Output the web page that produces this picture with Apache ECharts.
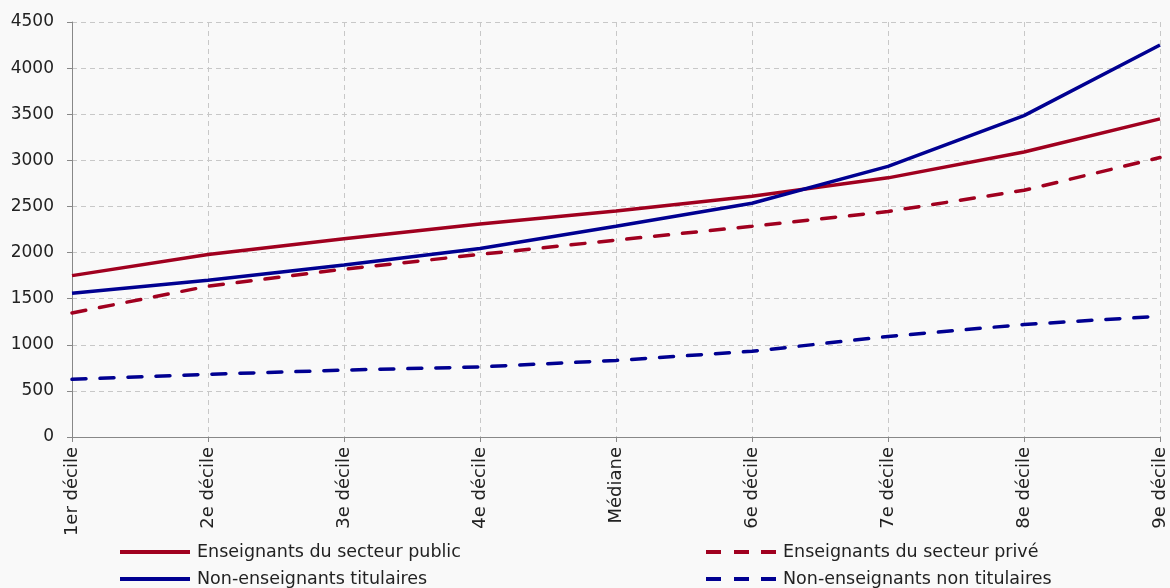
<!DOCTYPE html>
<html><head><meta charset="utf-8">
<script src="https://cdn.jsdelivr.net/npm/echarts@6/dist/echarts.min.js"></script>
<style>html,body{margin:0;padding:0;background:#f9f9f9}#c{width:1170px;height:588px}</style>
</head><body><div id="c"></div>
<script>
const categories = ['1er décile','2e décile','3e décile','4e décile','Médiane','6e décile','7e décile','8e décile','9e décile'];
const publicEns = [1750, 1980, 2150, 2310, 2450, 2610, 2810, 3090, 3450];
const priveEns = [1345, 1635, 1820, 1980, 2135, 2285, 2445, 2675, 3030];
const titulaires = [1560, 1700, 1865, 2045, 2285, 2535, 2935, 3485, 4250];
const nonTitulaires = [625, 680, 725, 760, 830, 930, 1090, 1220, 1310];
const names = ['Enseignants du secteur public','Enseignants du secteur privé','Non-enseignants titulaires','Non-enseignants non titulaires'];
const RED = '#a0001f', BLUE = '#000091';
const FONT = 'DejaVu Sans';
const SOLID_ICON = 'path://M0,0H70V4H0Z';
const DASH_ICON = 'path://M0,0H15V4H0Z M28,0H43V4H28Z M55,0H70V4H55Z';
function mk(name, data, color, dashed){
  return {name, type:'line', data, symbol:'none', smooth:false,
    lineStyle:{color, width:3.5, type: dashed ? [14,14] : 'solid', cap: dashed ? 'round':'butt'},
    itemStyle:{color}};
}
function lg(name, icon, left, top){
  return {left, top, orient:'horizontal', itemWidth:70, itemHeight:4, itemGap:10,
    data:[{name, icon}], selectedMode:false,
    textStyle:{fontFamily:FONT, fontSize:17.5, color:'#222', padding:[0,0,0,2]}};
}
const chart = echarts.init(document.getElementById('c'));
chart.setOption({
  backgroundColor:'#f9f9f9',
  animation:false,
  grid:{left:72, right:10, top:22, bottom:151},
  legend:[
    lg(names[0], SOLID_ICON, 115, 538),
    lg(names[2], SOLID_ICON, 115, 565),
    lg(names[1], DASH_ICON, 701, 538),
    lg(names[3], DASH_ICON, 701, 565)
  ],
  xAxis:{type:'category', data:categories, boundaryGap:false,
    axisLine:{lineStyle:{color:'#888'}}, axisTick:{show:true, length:5, lineStyle:{color:'#888'}, alignWithLabel:true},
    axisLabel:{rotate:90, fontFamily:FONT, fontSize:18, color:'#222', margin:10, interval:0},
    splitLine:{show:true, lineStyle:{color:'#c8c8c8', type:[5,4]}}},
  yAxis:{type:'value', min:0, max:4500, interval:500,
    axisLine:{show:true, lineStyle:{color:'#888'}}, axisTick:{show:true, length:5, lineStyle:{color:'#888'}},
    axisLabel:{fontFamily:FONT, fontSize:17, color:'#222', margin:18, formatter: v => String(v)},
    splitLine:{show:true, lineStyle:{color:'#c8c8c8', type:[5,4]}}},
  series:[
    mk(names[0], publicEns, RED, false),
    mk(names[1], priveEns, RED, true),
    mk(names[2], titulaires, BLUE, false),
    mk(names[3], nonTitulaires, BLUE, true)
  ]
});
</script></body></html>
